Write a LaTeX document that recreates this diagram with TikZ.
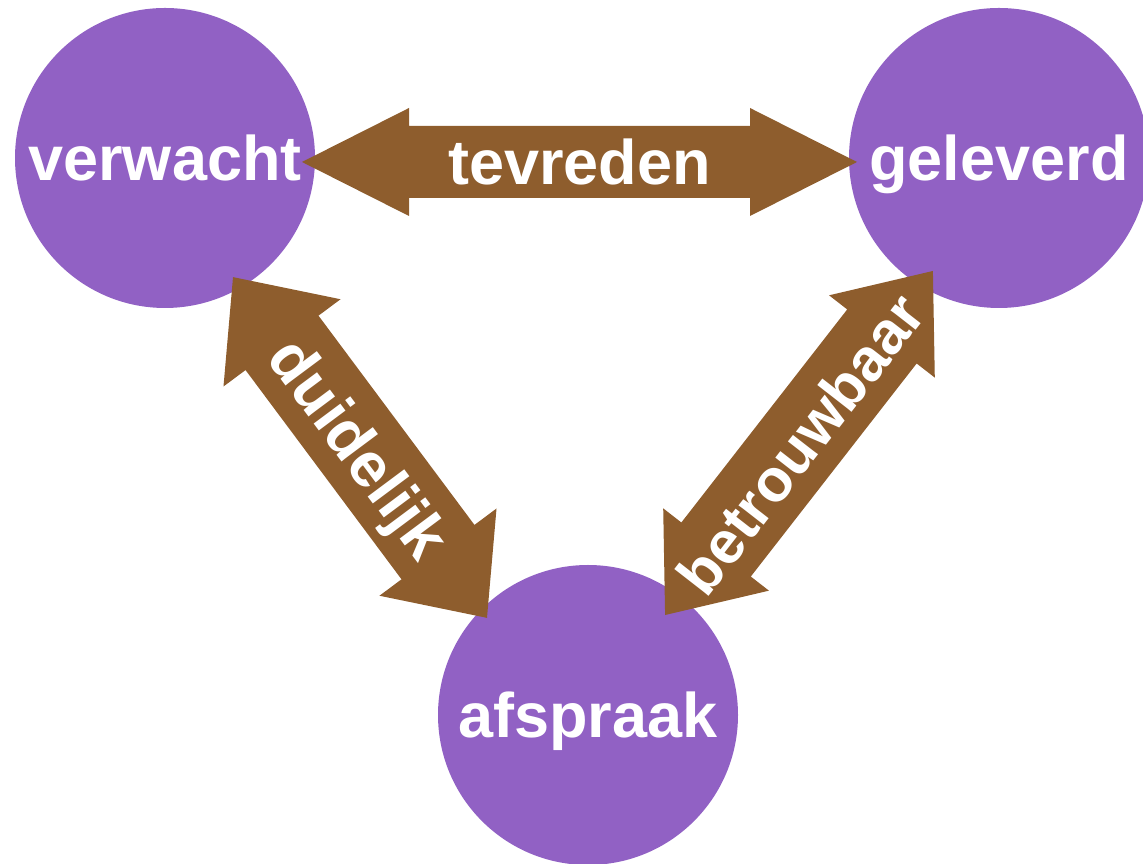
\documentclass[tikz,border=0pt]{standalone}
\usepackage{fontspec}
\setmainfont{Liberation Sans}
\definecolor{bubble}{HTML}{9161C4}
\definecolor{arrowbrown}{HTML}{8E5D2D}
\tikzset{
  bubblenode/.style={circle, fill=bubble, minimum size=300pt, inner sep=0pt},
  bubbletext/.style={text=white, font=\fontsize{63}{70}\selectfont\bfseries, text height=46pt, text depth=0pt, inner sep=0pt},
  arrowfill/.style={fill=arrowbrown},
  arrowtext/.style={text=white, font=\fontsize{63}{70}\selectfont\bfseries, text height=46pt, text depth=0pt, inner sep=0pt},
}
% #1 cx, #2 cy, #3 angle, #4 length, #5 head length, #6 head width, #7 shaft width, #8 name, #9 text, #10 font size
\newcommand\fatarrow[9]{%
  \begin{scope}[shift={(#1,#2)}, rotate=#3]
    \fill[arrowfill] ({-#4/2},0) -- ({-#4/2+#5},{#6/2}) -- ({-#4/2+#5},{#7/2})
      -- ({#4/2-#5},{#7/2}) -- ({#4/2-#5},{#6/2}) -- ({#4/2},0)
      -- ({#4/2-#5},{-#6/2}) -- ({#4/2-#5},{-#7/2}) -- ({-#4/2+#5},{-#7/2})
      -- ({-#4/2+#5},{-#6/2}) -- cycle;
    \node[arrowtext, rotate=#3] (#8) at (0,0) {#9};
  \end{scope}}
\begin{document}
\begin{tikzpicture}[x=1pt,y=1pt]
  \useasboundingbox (0,0) rectangle (1143,864);
  \begin{scope}
    \clip (0,0) rectangle (1143,864);
    \node[bubblenode] (verwacht) at (165,706) {};
    \node[bubblenode] (geleverd) at (999,706) {};
    \node[bubblenode] (afspraak) at (588,149) {};
  \end{scope}
  \node[bubbletext] (tverwacht) at (verwacht.center) {verwacht};
  \node[bubbletext] (tgeleverd) at (geleverd.center) {geleverd};
  \node[bubbletext] (tafspraak) at (afspraak.center) {afspraak};
  \fatarrow{579.5}{702}{0}{555}{107}{108}{72}{tevreden}{tevreden}
  \fatarrow{360}{416.5}{-53.3}{425}{82}{146}{91}{duidelijk}{duidelijk}
  \fatarrow{799}{421}{52.1}{436}{83}{134}{88}{betrouwbaar}{\fontsize{60}{66}\selectfont betrouwbaar}
\end{tikzpicture}
\end{document}
